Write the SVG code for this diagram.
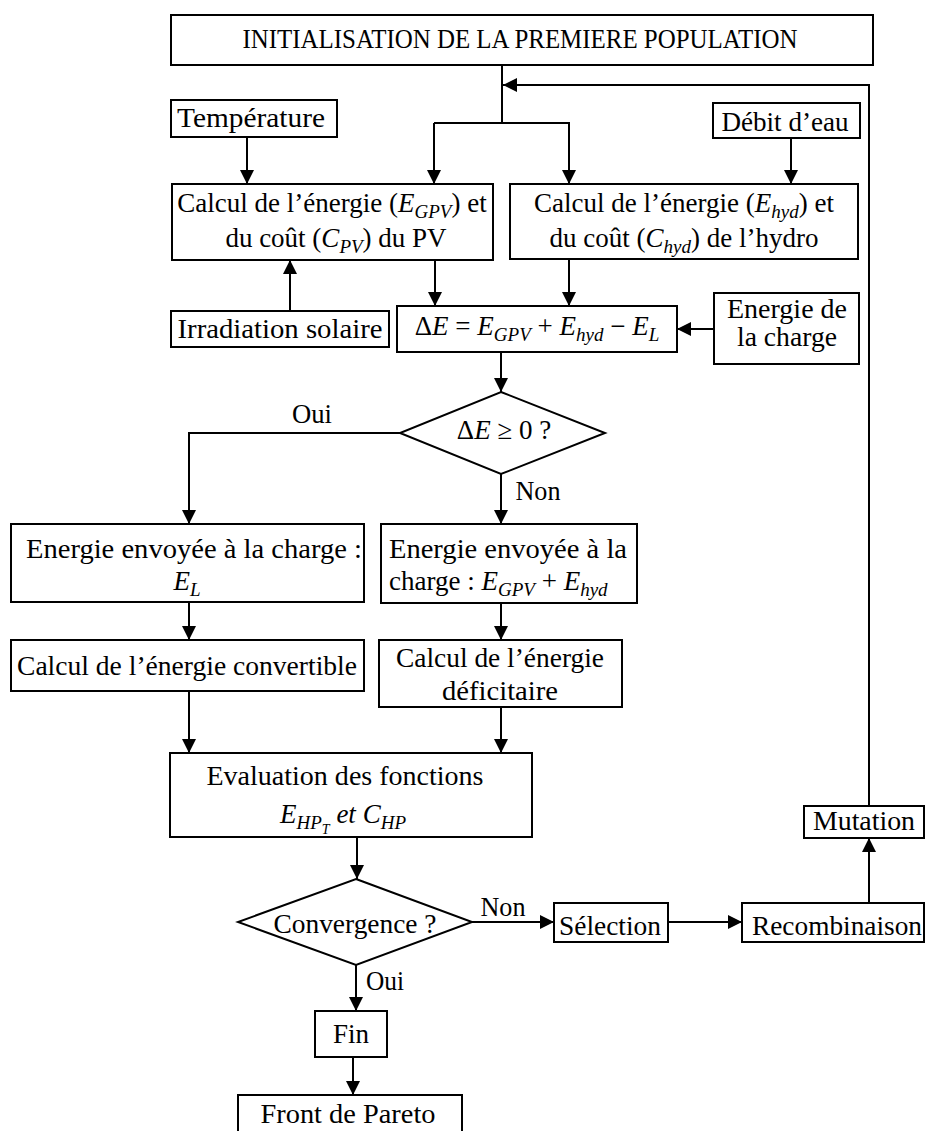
<svg xmlns="http://www.w3.org/2000/svg" width="926" height="1131" viewBox="0 0 926 1131">
<defs>
<style>
.b{fill:#fff;stroke:#000;stroke-width:2}
.t{font-family:"Liberation Serif","Times New Roman",serif;font-size:27px;fill:#000;text-anchor:middle}
.st{text-anchor:start}
.i{font-style:italic}
.s{font-size:19px;font-style:italic}
.ss{font-size:14px;font-style:italic}
.c line,.c polyline{stroke:#000;stroke-width:2;fill:none}
.a{marker-end:url(#ah)}
</style>
<marker id="ah" markerUnits="userSpaceOnUse" markerWidth="14" markerHeight="14" refX="14" refY="7" orient="auto" viewBox="0 0 14 14">
<path d="M0,0 L14,7 L0,14 z" fill="#000"/>
</marker>
</defs>
<rect width="926" height="1131" fill="#fff"/>

<g id="connectors" class="c">
<line x1="502" y1="65" x2="502" y2="123"/>
<line x1="434" y1="123" x2="570" y2="123"/>
<line class="a" x1="434" y1="123" x2="434" y2="184"/>
<line class="a" x1="569" y1="123" x2="569" y2="184"/>
<polyline class="a" points="869,806 869,85 503,85"/>
<line class="a" x1="247" y1="137" x2="247" y2="184"/>
<line class="a" x1="791" y1="138" x2="791" y2="184"/>
<line class="a" x1="290" y1="311" x2="290" y2="260"/>
<line class="a" x1="435" y1="260" x2="435" y2="306"/>
<line class="a" x1="569" y1="259" x2="569" y2="306"/>
<line class="a" x1="714" y1="329" x2="677" y2="329"/>
<line class="a" x1="501" y1="352" x2="501" y2="392"/>
<polyline class="a" points="400,433 189,433 189,524"/>
<line class="a" x1="501" y1="474" x2="501" y2="524"/>
<line class="a" x1="189" y1="602" x2="189" y2="640"/>
<line class="a" x1="501" y1="603" x2="501" y2="640"/>
<line class="a" x1="189" y1="691" x2="189" y2="753"/>
<line class="a" x1="501" y1="707" x2="501" y2="753"/>
<line class="a" x1="357" y1="837" x2="357" y2="879"/>
<line class="a" x1="472" y1="922" x2="554" y2="922"/>
<line class="a" x1="668" y1="922" x2="742" y2="922"/>
<line class="a" x1="869" y1="903" x2="869" y2="838"/>
<line class="a" x1="356" y1="965" x2="356" y2="1011"/>
<line class="a" x1="353" y1="1057" x2="353" y2="1095"/>
</g>

<g id="n-init">
<rect class="b" x="171" y="15" width="702" height="50"/>
<text class="t" x="520" y="48" font-size="25" textLength="555" lengthAdjust="spacingAndGlyphs">INITIALISATION DE LA PREMIERE POPULATION</text>
</g>
<g id="n-temp">
<rect class="b" x="171" y="100" width="166" height="37"/>
<text class="t" x="251" y="127" textLength="148" lengthAdjust="spacingAndGlyphs">Température</text>
</g>
<g id="n-debit">
<rect class="b" x="713" y="103" width="147" height="35"/>
<text class="t" x="785" y="131" textLength="127" lengthAdjust="spacingAndGlyphs">Débit d’eau</text>
</g>
<g id="n-calc-pv">
<rect class="b" x="172" y="184" width="321" height="76"/>
<text class="t" x="332" y="212">Calcul de l’énergie (<tspan class="i">E</tspan><tspan class="s" dy="6">GPV</tspan><tspan dy="-6">) et</tspan></text>
<text class="t" x="336" y="247">du coût (<tspan class="i">C</tspan><tspan class="s" dy="6">PV</tspan><tspan dy="-6">) du PV</tspan></text>
</g>
<g id="n-calc-hyd">
<rect class="b" x="510" y="184" width="348" height="75"/>
<text class="t" x="684" y="212">Calcul de l’énergie (<tspan class="i">E</tspan><tspan class="s" dy="6">hyd</tspan><tspan dy="-6">) et</tspan></text>
<text class="t" x="684" y="247">du coût (<tspan class="i">C</tspan><tspan class="s" dy="6">hyd</tspan><tspan dy="-6">) de l’hydro</tspan></text>
</g>
<g id="n-irr">
<rect class="b" x="171" y="311" width="218" height="36"/>
<text class="t" x="280" y="338" textLength="205" lengthAdjust="spacingAndGlyphs">Irradiation solaire</text>
</g>
<g id="n-delta">
<rect class="b" x="397" y="306" width="280" height="46"/>
<text class="t" x="537" y="335" font-size="28">Δ<tspan class="i">E</tspan> = <tspan class="i">E</tspan><tspan class="s" dy="6">GPV</tspan><tspan dy="-6"> + </tspan><tspan class="i">E</tspan><tspan class="s" dy="6">hyd</tspan><tspan dy="-6"> − </tspan><tspan class="i">E</tspan><tspan class="s" dy="6">L</tspan></text>
</g>
<g id="n-load">
<rect class="b" x="714" y="293" width="145" height="71"/>
<text class="t" x="787" y="318" textLength="120" lengthAdjust="spacingAndGlyphs">Energie de</text>
<text class="t" x="787" y="346" textLength="100" lengthAdjust="spacingAndGlyphs">la charge</text>
</g>
<g id="n-dec1">
<polygon class="b" points="501,392 605,433 501,474 400,433"/>
<text class="t" x="504" y="439" font-size="28">Δ<tspan class="i">E</tspan> ≥ 0 ?</text>
</g>
<g id="labels1">
<text class="t" x="312" y="423" textLength="40" lengthAdjust="spacingAndGlyphs">Oui</text>
<text class="t" x="538" y="500" textLength="45" lengthAdjust="spacingAndGlyphs">Non</text>
</g>
<g id="n-send-el">
<rect class="b" x="11" y="524" width="353" height="78"/>
<text class="t" x="194" y="558" textLength="336" lengthAdjust="spacingAndGlyphs">Energie envoyée à la charge :</text>
<text class="t" x="187" y="590" font-size="28"><tspan class="i">E</tspan><tspan class="s" dy="6">L</tspan></text>
</g>
<g id="n-send-sum">
<rect class="b" x="381" y="524" width="256" height="79"/>
<text class="t" x="508" y="558" textLength="238" lengthAdjust="spacingAndGlyphs">Energie envoyée à la</text>
<text class="t st" x="389" y="590">charge : <tspan class="i">E</tspan><tspan class="s" dy="6">GPV</tspan><tspan dy="-6"> + </tspan><tspan class="i">E</tspan><tspan class="s" dy="6">hyd</tspan></text>
</g>
<g id="n-conv">
<rect class="b" x="11" y="640" width="353" height="51"/>
<text class="t" x="187" y="675" textLength="340" lengthAdjust="spacingAndGlyphs">Calcul de l’énergie convertible</text>
</g>
<g id="n-def">
<rect class="b" x="379" y="640" width="243" height="67"/>
<text class="t" x="500" y="667" textLength="208" lengthAdjust="spacingAndGlyphs">Calcul de l’énergie</text>
<text class="t" x="500" y="700" textLength="116" lengthAdjust="spacingAndGlyphs">déficitaire</text>
</g>
<g id="n-eval">
<rect class="b" x="170" y="753" width="362" height="84"/>
<text class="t" x="345" y="785" textLength="277" lengthAdjust="spacingAndGlyphs">Evaluation des fonctions</text>
<text class="t" x="343" y="823" font-size="31"><tspan class="i">E</tspan><tspan class="s" dy="6" font-size="21">HP</tspan><tspan class="ss" dy="5" font-size="15">T</tspan><tspan class="i" dy="-11"> et </tspan><tspan class="i">C</tspan><tspan class="s" dy="6" font-size="21">HP</tspan></text>
</g>
<g id="n-conv-dec">
<polygon class="b" points="356,879 472,922 356,965 238,922"/>
<text class="t" x="355" y="933" textLength="163" lengthAdjust="spacingAndGlyphs">Convergence ?</text>
</g>
<g id="labels2">
<text class="t" x="503" y="916" textLength="45" lengthAdjust="spacingAndGlyphs">Non</text>
<text class="t" x="385" y="990" textLength="38" lengthAdjust="spacingAndGlyphs">Oui</text>
</g>
<g id="n-sel">
<rect class="b" x="554" y="903" width="114" height="39"/>
<text class="t" x="610" y="935" textLength="102" lengthAdjust="spacingAndGlyphs">Sélection</text>
</g>
<g id="n-recomb">
<rect class="b" x="742" y="903" width="182" height="39"/>
<text class="t" x="837" y="935" textLength="170" lengthAdjust="spacingAndGlyphs">Recombinaison</text>
</g>
<g id="n-mut">
<rect class="b" x="804" y="806" width="120" height="32"/>
<text class="t" x="864" y="830" textLength="102" lengthAdjust="spacingAndGlyphs">Mutation</text>
</g>
<g id="n-fin">
<rect class="b" x="315" y="1011" width="72" height="46"/>
<text class="t" x="351" y="1043">Fin</text>
</g>
<g id="n-pareto">
<rect class="b" x="238" y="1095" width="224" height="50"/>
<text class="t" x="348" y="1123" textLength="175" lengthAdjust="spacingAndGlyphs">Front de Pareto</text>
</g>
</svg>
